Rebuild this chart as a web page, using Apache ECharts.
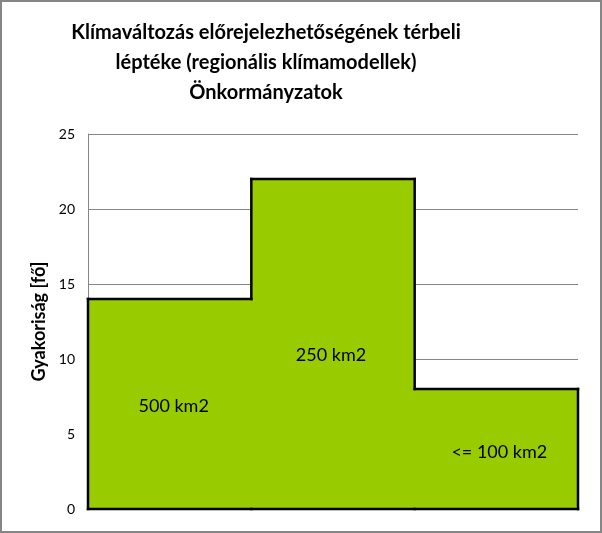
<!DOCTYPE html>
<html>
<head>
<meta charset="utf-8">
<script src="https://cdn.jsdelivr.net/npm/echarts@6/dist/echarts.min.js"></script>
<style>html,body{margin:0;padding:0;background:#fff}#c{width:602px;height:533px}</style>
</head>
<body>
<div id="c"></div>
<script>
const categories = ['500 km2', '250 km2', '<= 100 km2'];
const values = [14, 22, 8];
const yTicks = { min: 0, max: 25, interval: 5 };
const titleLines = ['Klímaváltozás előrejelezhetőségének térbeli', 'léptéke (regionális klímamodellek)', 'Önkormányzatok'];
const yName = 'Gyakoriság [fő]';

const FONT = 'Lato, "Open Sans", sans-serif';
const labelOffsets = [[4, 2], [-2, 11], [3, 3]];
const FILL = '#99CC00';

const chart = echarts.init(document.getElementById('c'), null, { renderer: 'canvas' });
chart.setOption({
  animation: false,
  backgroundColor: '#fff',
  title: {
    text: titleLines.join('\n'),
    left: 261, top: 13, textAlign: 'center',
    textStyle: { fontFamily: FONT, fontWeight: 'bold', fontSize: 20, lineHeight: 30, color: '#000' }
  },
  graphic: [{
    type: 'rect', shape: { x: 1, y: 1, width: 600, height: 531 },
    style: { fill: 'none', stroke: '#868686', lineWidth: 2 }, silent: true, z: 100
  }],
  grid: { left: 88, right: 24, top: 134, bottom: 24 },
  xAxis: {
    type: 'category', data: categories, boundaryGap: true,
    axisLine: { show: false }, axisTick: { show: false }, axisLabel: { show: false }, splitLine: { show: false }
  },
  yAxis: {
    type: 'value', min: yTicks.min, max: yTicks.max, interval: yTicks.interval,
    name: yName, nameLocation: 'middle', nameGap: 35, nameRotate: 90,
    nameTextStyle: { fontFamily: FONT, fontWeight: 'bold', fontSize: 18, color: '#000' },
    axisLine: { show: true, lineStyle: { color: '#868686', width: 1 } },
    axisTick: { show: false },
    axisLabel: { fontFamily: FONT, fontSize: 14, color: '#000', margin: 13 },
    splitLine: { show: true, lineStyle: { color: '#868686', width: 1 } }
  },
  series: [{
    type: 'custom',
    data: values.map((v, i) => [i, v]),
    z: 1, silent: true,
    renderItem: function (params, api) {
      const i = api.value(0);
      const p = api.coord([i, api.value(1)]);
      const w = api.size([1, 0])[0];
      const y0 = api.coord([i, 0])[1];
      return {
        type: 'rect',
        shape: { x: p[0] - w / 2 - 0.75, y: p[1], width: w + 1.5, height: y0 - p[1] },
        style: { fill: FILL }
      };
    }
  }, {
    type: 'bar',
    data: values.map((v, i) => ({ value: v, label: { offset: labelOffsets[i] } })),
    barCategoryGap: '0%', barGap: '-100%',
    itemStyle: { color: 'rgba(0,0,0,0)' },
    label: {
      show: true, position: 'inside', formatter: '{b}',
      fontFamily: FONT, fontSize: 18, color: '#000'
    },
    z: 4
  }, {
    type: 'custom',
    data: values.map((v, i) => [i, v]),
    z: 3, silent: true,
    renderItem: function (params, api) {
      const i = params.dataIndex;
      const v = api.value(1);
      const prev = i > 0 ? values[i - 1] : 0;
      const p = api.coord([i, v]);
      const w = api.size([1, 0])[0];
      const x0 = p[0] - w / 2, x1 = p[0] + w / 2;
      const y0 = api.coord([i, 0])[1];
      const yPrev = api.coord([i, prev])[1];
      const children = [
        { type: 'line', shape: { x1: x0, y1: p[1], x2: x1, y2: p[1] } },
        { type: 'line', shape: { x1: x0, y1: yPrev, x2: x0, y2: p[1] } },
        { type: 'line', shape: { x1: x0, y1: y0, x2: x1, y2: y0 } }
      ];
      if (i === values.length - 1) {
        children.push({ type: 'line', shape: { x1: x1, y1: p[1], x2: x1, y2: y0 } });
      }
      children.forEach(c => { c.style = { stroke: '#000', lineWidth: 2.5, lineCap: 'square' }; });
      return { type: 'group', children: children };
    }
  }]
});
</script>
</body>
</html>
